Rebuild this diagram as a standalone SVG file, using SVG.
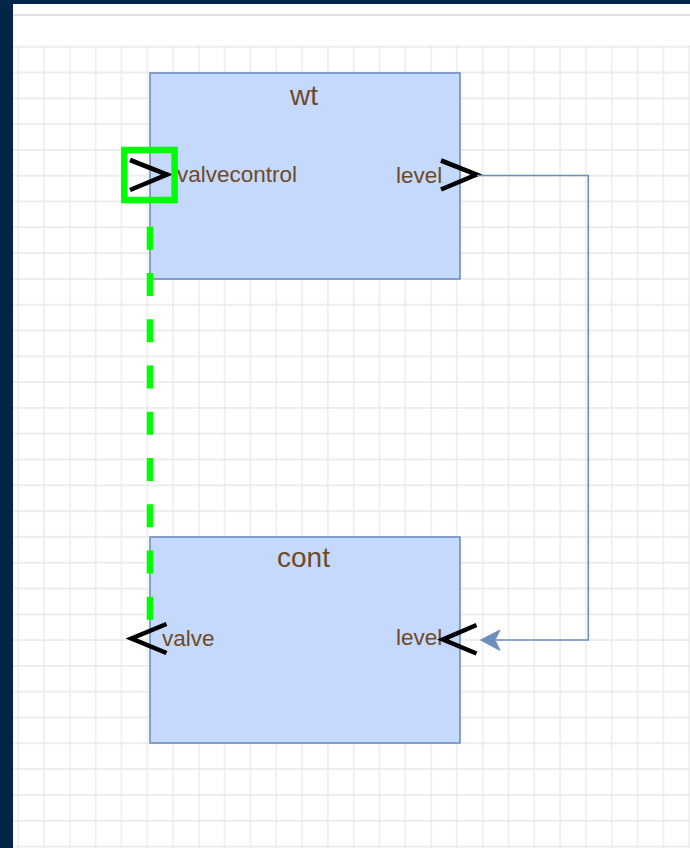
<svg xmlns="http://www.w3.org/2000/svg" width="690" height="848" viewBox="0 0 690 848">
  <style>
    .box { fill: #c5d9fc; stroke: #6c8ebf; stroke-width: 1.6; }
    .title { font-family: "Liberation Sans", Arial, sans-serif; font-size: 28px; fill: #6e4a28; text-anchor: middle; }
    .lbl { font-family: "Liberation Sans", Arial, sans-serif; font-size: 22.5px; fill: #6e4a28; }
    .port { fill: none; stroke: #000; stroke-width: 4.6; stroke-linecap: butt; stroke-linejoin: miter; }
    .edge { fill: none; stroke: #6c8ebf; stroke-width: 1.6; }
    .arrowhead { fill: #6c8ebf; stroke: #6c8ebf; stroke-width: 1; }
    .sel { fill: none; stroke: #00ff00; stroke-width: 6.5; }
    .gedge { fill: none; stroke: #00ff00; stroke-width: 6.5; stroke-dasharray: 23 23.25; }
  </style>
  <defs>
    <pattern id="grid" x="5.4" y="33.8" width="25.8" height="25.8" patternUnits="userSpaceOnUse">
      <path d="M12.9 0 V25.8 M0 12.9 H25.8" fill="none" stroke="#e8e8e8" stroke-width="1.3"/>
    </pattern>
  </defs>

  <!-- frame -->
  <rect x="0" y="0" width="690" height="848" fill="#02254a"/>
  <rect x="13" y="4" width="677" height="844" fill="#ffffff"/>
  <line x1="13" y1="15" x2="690" y2="15" stroke="#e0e0e0" stroke-width="2"/>
  <rect x="13" y="45.5" width="677" height="803" fill="url(#grid)"/>

  <g id="wt">
    <rect class="box" x="150" y="73" width="310" height="206"/>
    <text class="title" x="304" y="105">wt</text>
    <g id="wt-valvecontrol">
      <polyline class="port" points="130,160 167,174.5 130,190"/>
      <text class="lbl" x="177" y="182">valvecontrol</text>
      <rect class="sel" x="124.3" y="150" width="50.3" height="50"/>
    </g>
    <g id="wt-level">
      <text class="lbl" x="396" y="183">level</text>
      <polyline class="port" points="441,160.5 476.5,174.5 441,189.5"/>
    </g>
  </g>

  <g id="cont">
    <rect class="box" x="150" y="537" width="310" height="206"/>
    <text class="title" x="303.5" y="567">cont</text>
    <g id="cont-valve">
      <polyline class="port" points="166.5,624 131.5,638.5 166.5,653"/>
      <text class="lbl" x="162" y="646">valve</text>
    </g>
    <g id="cont-level">
      <text class="lbl" x="396" y="645">level</text>
      <polyline class="port" points="476.5,625 443,639.5 476.5,653.5"/>
    </g>
  </g>

  <g id="connectors">
    <path class="edge" d="M477 175.5 H588.3 V640 H496"/>
    <polygon class="arrowhead" points="480.5,640 500,630 495,640 500,650.5"/>
    <path class="gedge" d="M150 226.7 V620"/>
  </g>
</svg>
